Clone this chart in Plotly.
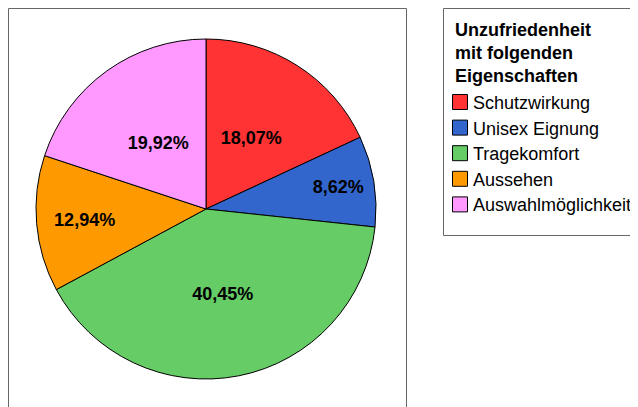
import plotly.graph_objects as go

categories = ["Schutzwirkung", "Unisex Eignung", "Tragekomfort", "Aussehen", "Auswahlmöglichkeit"]
values = [18.07, 8.62, 40.45, 12.94, 19.92]
colors = ["#ff3333", "#3366cc", "#66cc66", "#ff9900", "#ff99ff"]
legend_title_lines = ["Unzufriedenheit", "mit folgenden", "Eigenschaften"]

# which slices get their label from the inner (label-only) pie
inner_label = [True, False, False, False, True]

# page body has an 8px margin; figure coordinates are screen minus 8
OFF = 8
W, H = 638 - OFF, 407 - OFF
FONT = "Liberation Sans"


def px(sx):
    return (sx - OFF) / W


def py(sy):
    return 1 - (sy - OFF) / H


cx, cy, r = 206, 209, 170
r_in = 0.76 * r
label_font = dict(family=FONT, size=18, color="black", weight="bold")

fig = go.Figure()
fig.add_trace(go.Pie(
    labels=categories,
    values=values,
    sort=False,
    direction="clockwise",
    rotation=0,
    marker=dict(colors=colors, line=dict(color="black", width=1)),
    texttemplate="%{percent:.2%}",
    textposition=["none" if f else "inside" for f in inner_label],
    insidetextorientation="horizontal",
    textfont=label_font,
    domain=dict(x=[px(cx - r), px(cx + r)], y=[py(cy + r), py(cy - r)]),
    hoverinfo="label+percent",
    showlegend=False,
))
fig.add_trace(go.Pie(
    labels=categories,
    values=values,
    sort=False,
    direction="clockwise",
    rotation=0,
    marker=dict(colors=["rgba(0,0,0,0)"] * len(values), line=dict(width=0)),
    texttemplate="%{percent:.2%}",
    textposition=["inside" if f else "none" for f in inner_label],
    insidetextorientation="horizontal",
    textfont=label_font,
    domain=dict(x=[px(cx - r_in), px(cx + r_in)], y=[py(cy + r_in), py(cy - r_in)]),
    hoverinfo="skip",
    showlegend=False,
))

# plot-area frame
fig.add_shape(type="rect", xref="paper", yref="paper",
              x0=px(8.5), x1=px(406.5), y0=py(420), y1=py(8.5),
              line=dict(color="#666666", width=1), fillcolor="rgba(0,0,0,0)", layer="below")

# legend frame
fig.add_shape(type="rect", xref="paper", yref="paper",
              x0=px(443.5), x1=px(660), y0=py(235.5), y1=py(8.5),
              line=dict(color="#666666", width=1), fillcolor="white", layer="below")

title_y = [30, 53, 76.5]
for line, ty in zip(legend_title_lines, title_y):
    fig.add_annotation(text="<b>" + line + "</b>", xref="paper", yref="paper",
                       x=px(453), y=py(ty), xanchor="left", yanchor="middle",
                       showarrow=False, font=dict(family=FONT, size=18, color="black"))

item_y0, item_dy = 102, 25.6
for i, (cat, col) in enumerate(zip(categories, colors)):
    yc = item_y0 + i * item_dy
    fig.add_shape(type="rect", xref="paper", yref="paper",
                  x0=px(452.5), x1=px(467.5), y0=py(yc + 7.5), y1=py(yc - 7.5),
                  line=dict(color="black", width=1), fillcolor=col)
    fig.add_annotation(text=cat, xref="paper", yref="paper",
                       x=px(471), y=py(yc + 1), xanchor="left", yanchor="middle",
                       showarrow=False, font=dict(family=FONT, size=18, color="black"))

fig.update_layout(
    width=W, height=H,
    margin=dict(l=0, r=0, t=0, b=0),
    paper_bgcolor="white",
    plot_bgcolor="white",
    separators=",.",
    font=dict(family=FONT, color="black"),
    showlegend=False,
)

fig.write_html("out.html")
